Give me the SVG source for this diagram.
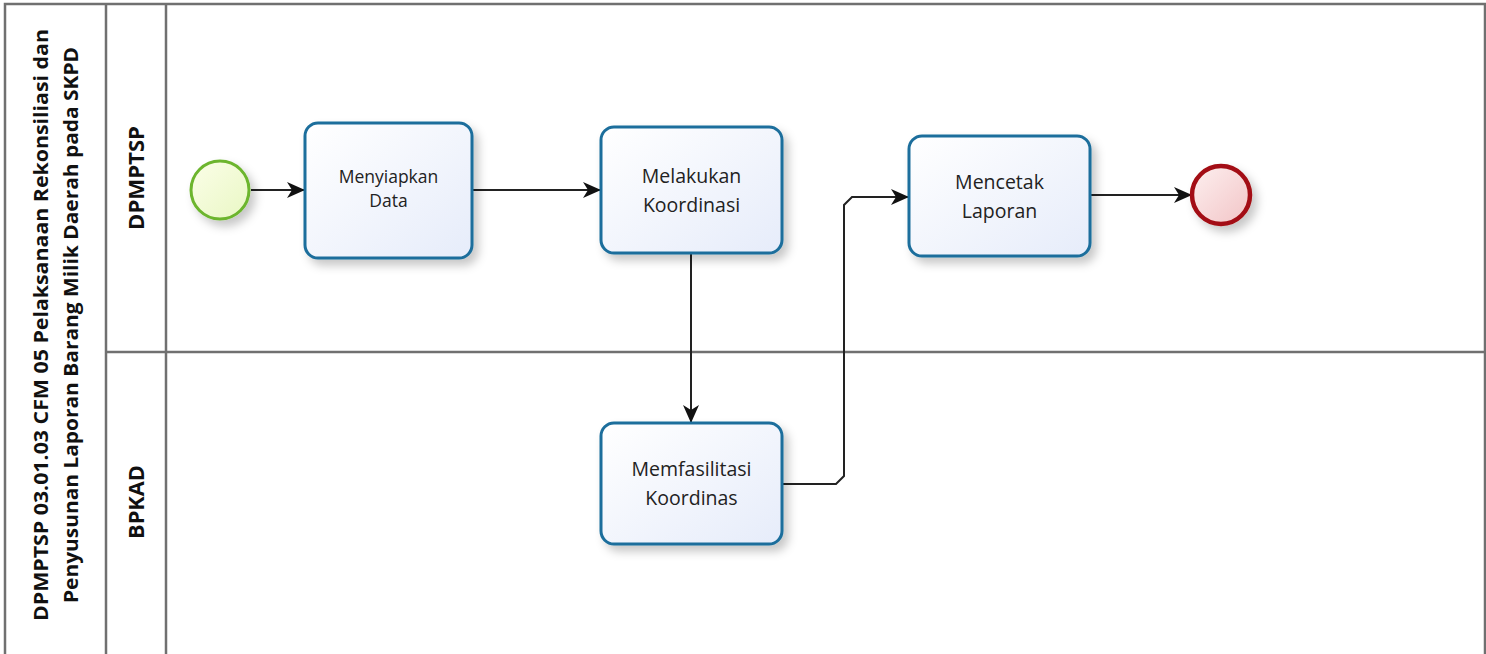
<svg xmlns="http://www.w3.org/2000/svg" width="1486" height="654" viewBox="0 0 1486 654">
<defs>
<linearGradient id="gTask" x1="0" y1="0" x2="1" y2="1"><stop offset="0" stop-color="#ffffff"/><stop offset="1" stop-color="#e6ecfa"/></linearGradient>
<linearGradient id="gStart" x1="0" y1="0" x2="1" y2="1"><stop offset="0" stop-color="#fbfee8"/><stop offset="1" stop-color="#e9f7c4"/></linearGradient>
<linearGradient id="gEnd" x1="0" y1="0" x2="1" y2="1"><stop offset="0" stop-color="#fdf0f0"/><stop offset="1" stop-color="#f2c4c6"/></linearGradient>
<filter id="sh" x="-20%" y="-20%" width="150%" height="150%"><feDropShadow dx="5" dy="6" stdDeviation="5" flood-color="#000" flood-opacity="0.22"/></filter>
<marker id="arr" viewBox="0 0 18 16" refX="17" refY="8" markerWidth="18" markerHeight="16" markerUnits="userSpaceOnUse" orient="auto"><path d="M0,0 L18,8 L0,16 L5,8 Z" fill="#111"/></marker>
<style>
.frame{fill:none;stroke:#707070;stroke-width:2.5}
.task{fill:url(#gTask);stroke:#1c6e9c;stroke-width:3;filter:url(#sh)}
.tt{font-family:"Open Sans","Noto Sans",sans-serif;font-size:19.5px;fill:#222;text-anchor:middle}
.lane{font-family:"Open Sans","Noto Sans",sans-serif;font-weight:bold;fill:#111;text-anchor:middle}
.flow{fill:none;stroke:#222;stroke-width:2;marker-end:url(#arr)}
</style>
</defs>
<rect width="1486" height="654" fill="#fff"/>
<g id="pool">
<path class="frame" d="M5,660 V4 H1485 V660"/>
<line class="frame" x1="106" y1="4" x2="106" y2="660"/>
<line class="frame" x1="166" y1="4" x2="166" y2="660"/>
<line class="frame" x1="106" y1="352" x2="1485" y2="352"/>
<text class="lane" style="font-size:19px" transform="translate(48,325) rotate(-90)" textLength="592" lengthAdjust="spacingAndGlyphs">DPMPTSP 03.01.03 CFM 05 Pelaksanaan Rekonsiliasi dan</text>
<text class="lane" style="font-size:19px" transform="translate(78,325) rotate(-90)" textLength="556" lengthAdjust="spacingAndGlyphs">Penyusunan Laporan Barang Milik Daerah pada SKPD</text>
</g>
<g id="lane-dpmptsp"><text class="lane" style="font-size:21px" transform="translate(144,178) rotate(-90)" textLength="104" lengthAdjust="spacingAndGlyphs">DPMPTSP</text></g>
<g id="lane-bpkad"><text class="lane" style="font-size:21px" transform="translate(144,502) rotate(-90)" textLength="74" lengthAdjust="spacingAndGlyphs">BPKAD</text></g>
<g id="connectors">
<path class="flow" d="M251,190 H304"/>
<path class="flow" d="M472,190 H600"/>
<path class="flow" d="M691,253 V422"/>
<path class="flow" d="M782,484 H836 L844,476 V205 L852,197 H908"/>
<path class="flow" d="M1090,195 H1191"/>
</g>
<g id="start"><circle cx="220" cy="190" r="29" fill="url(#gStart)" stroke="#6cb52d" stroke-width="3" filter="url(#sh)"/></g>
<g id="t1"><rect class="task" x="305" y="123" width="167" height="135" rx="13"/><text class="tt" x="388.5" y="183" style="font-size:17.5px">Menyiapkan</text><text class="tt" x="388.5" y="207" style="font-size:17.5px">Data</text></g>
<g id="t2"><rect class="task" x="601" y="127" width="181" height="126" rx="13"/><text class="tt" x="691.5" y="183">Melakukan</text><text class="tt" x="691.5" y="212">Koordinasi</text></g>
<g id="t3"><rect class="task" x="909" y="136" width="181" height="120" rx="13"/><text class="tt" x="999.5" y="189">Mencetak</text><text class="tt" x="999.5" y="218">Laporan</text></g>
<g id="t4"><rect class="task" x="601" y="423" width="181" height="121" rx="13"/><text class="tt" x="691.5" y="476">Memfasilitasi</text><text class="tt" x="691.5" y="505">Koordinas</text></g>
<g id="end"><circle cx="1221" cy="195" r="29" fill="url(#gEnd)" stroke="#a30f12" stroke-width="4.5" filter="url(#sh)"/></g>
</svg>
